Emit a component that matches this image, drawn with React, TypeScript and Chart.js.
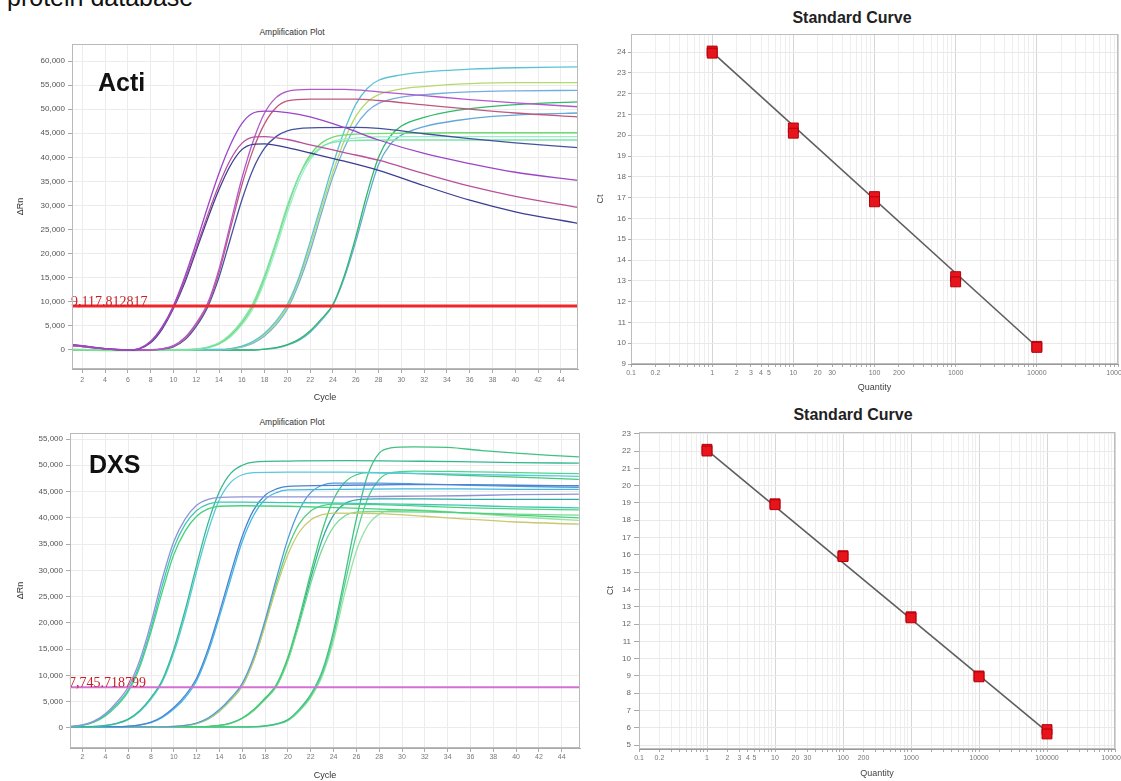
import React, { useEffect, useRef } from "react";
import { Chart, registerables } from "chart.js";

Chart.register(...registerables);

const FONT = 'Arial, "Liberation Sans", Helvetica, sans-serif';

// ---------------- Acti amplification plot ----------------
const actiThreshold = 9117.812817;
const actiThresholdLabel = "9,117.812817";
const actiYTicks = [0, 5000, 10000, 15000, 20000, 25000, 30000, 35000, 40000, 45000, 50000, 55000, 60000];
const actiA1 = [[1,1200],[2,900],[3,600],[4,300],[5,100],[6,0],[7,300],[8,1800],[9,4800],[10,9200],[11,15200],[12,22200],[13,29700],[14,36700],[15,42600],[16,47000],[17,49200],[18,49600],[20,49300],[22,48400],[25,46200],[28,43600],[32,40800],[36,38700],[40,36900],[45.5,35200]];
const actiA2 = [[1,1000],[2,800],[3,500],[4,250],[5,80],[6,0],[7,280],[8,1700],[9,4600],[10,8900],[11,14600],[12,21200],[13,28000],[14,34300],[15,39500],[16,42900],[17,44200],[18,44300],[20,43700],[22,42600],[25,41000],[28,39400],[32,36600],[36,34000],[40,31900],[45.5,29600]];
const actiA3 = [[1,1100],[2,850],[3,550],[4,280],[5,90],[6,0],[7,250],[8,1500],[9,4300],[10,8600],[11,14000],[12,20600],[13,27200],[14,33300],[15,38300],[16,41600],[17,42700],[18,42800],[20,42000],[22,40900],[25,39200],[28,37300],[32,34100],[36,31100],[40,28700],[45.5,26300]];
const actiB1 = [[1,900],[2,700],[3,450],[4,250],[5,100],[6,20],[7,0],[8,50],[9,250],[10,900],[11,2600],[12,5600],[13,9700],[14,16800],[15,26200],[16,35600],[17,43400],[18,49200],[19,52400],[20,53700],[22,54100],[25,54100],[28,53600],[32,52800],[36,52000],[40,51300],[45.5,50500]];
const actiB2 = [[1,1000],[2,750],[3,480],[4,260],[5,100],[6,20],[7,0],[8,40],[9,220],[10,800],[11,2400],[12,5300],[13,9300],[14,16100],[15,25200],[16,34200],[17,41600],[18,47000],[19,50300],[20,51700],[22,52100],[26,52100],[28,51800],[32,50900],[36,50000],[40,49200],[45.5,48400]];
const actiB3 = [[1,900],[2,700],[3,450],[4,240],[5,90],[6,15],[7,0],[8,30],[9,180],[10,650],[11,2100],[12,4900],[13,8900],[14,15100],[15,23100],[16,31100],[17,37600],[18,41900],[19,44300],[20,45500],[22,46100],[26,46200],[28,46000],[32,44900],[36,43900],[40,43000],[45.5,42000]];
const actiC1 = [[1,200],[4,0],[10,0],[12,200],[13,600],[14,1500],[15,3300],[16,6000],[17,9800],[18,15500],[19,22500],[20,30000],[21,36000],[22,40000],[23,42200],[24,43100],[26,43500],[30,43600],[35,43600],[40,43600],[45.5,43600]];
const actiC2 = [[1,100],[4,-100],[10,0],[12,200],[13,500],[14,1300],[15,3000],[16,5600],[17,9300],[18,15000],[19,22000],[20,29500],[21,36000],[22,40500],[23,43000],[24,44200],[26,44800],[30,45000],[35,45100],[40,45100],[45.5,45100]];
const actiC3 = [[1,150],[4,0],[10,0],[12,150],[13,450],[14,1200],[15,2700],[16,5200],[17,8700],[18,14200],[19,21000],[20,28500],[21,35000],[22,39500],[23,42000],[24,43300],[26,44000],[30,44300],[35,44300],[40,44300],[45.5,44300]];
const actiD1 = [[1,100],[4,0],[14,100],[15,300],[16,800],[17,1800],[18,3500],[19,6000],[20,9500],[21,15000],[22,22500],[23,30500],[24,38500],[25,45500],[26,51000],[27,54300],[28,56000],[30,57100],[33,57900],[36,58300],[40,58600],[45.5,58800]];
const actiD2 = [[1,0],[14,100],[15,250],[16,700],[17,1600],[18,3200],[19,5600],[20,9000],[21,14500],[22,21500],[23,29500],[24,37000],[25,43500],[26,48500],[27,51500],[28,53000],[30,54200],[33,54900],[36,55300],[40,55500],[45.5,55500]];
const actiD3 = [[1,50],[14,80],[15,200],[16,600],[17,1400],[18,2900],[19,5200],[20,8500],[21,13800],[22,20500],[23,28500],[24,36000],[25,42000],[26,46500],[27,49500],[28,51200],[30,52500],[33,53200],[36,53600],[40,53800],[45.5,53900]];
const actiE1 = [[1,0],[17,0],[18,200],[19,500],[20,1100],[21,2200],[22,4000],[23,6500],[24,9500],[25,15500],[26,23500],[27,32500],[28,40000],[29,44300],[30,46500],[32,48300],[35,49800],[38,50600],[42,51200],[45.5,51500]];
const actiE2 = [[1,0],[17,0],[18,150],[19,400],[20,1000],[21,2000],[22,3700],[23,6200],[24,9300],[25,15000],[26,22500],[27,31000],[28,38500],[29,42600],[30,44600],[32,46400],[35,47700],[38,48500],[42,49000],[45.5,49200]];
const actiSeries = [actiA1, actiA2, actiA3, actiB1, actiB2, actiB3, actiC1, actiC2, actiC3, actiD1, actiD2, actiD3, actiE1, actiE2];
const actiColors = ["#9b45c8", "#b8509a", "#3b3d92", "#b259cc", "#c0587e", "#44529e", "#7ee3a6", "#6fdc6f", "#9aeccc", "#5cc3d6", "#b5d968", "#74ade0", "#2fb96a", "#63a9d6"];

// ---------------- DXS amplification plot ----------------
const dxsThreshold = 7745.718799;
const dxsThresholdLabel = "7,745.718799";
const dxsYTicks = [0, 5000, 10000, 15000, 20000, 25000, 30000, 35000, 40000, 45000, 50000, 55000];
const dxsG1a = [[1,300],[2,600],[3,1300],[4,2700],[5,4900],[6,7800],[7,12800],[8,20000],[9,28500],[10,35500],[11,39800],[12,42400],[13,43500],[14,43900],[16,44000],[20,44000],[25,44000],[30,44100],[35,44200],[40,44400],[45.5,44500]];
const dxsG1b = [[1,300],[2,550],[3,1200],[4,2500],[5,4500],[6,7200],[7,12000],[8,19000],[9,27200],[10,34300],[11,38800],[12,41400],[13,42600],[14,43000],[16,43000],[20,42900],[25,42800],[30,42600],[35,42400],[40,42100],[45.5,41900]];
const dxsG1c = [[1,250],[2,500],[3,1100],[4,2300],[5,4200],[6,6900],[7,11500],[8,18300],[9,26000],[10,33000],[11,37500],[12,40300],[13,41700],[14,42200],[16,42300],[20,42200],[25,41900],[30,41500],[35,41000],[40,40500],[45.5,40000]];
const dxsG2a = [[1,250],[3,300],[4,500],[5,900],[6,1700],[7,3300],[8,5800],[9,9200],[10,15000],[11,22500],[12,31000],[13,39000],[14,45000],[15,48500],[16,50000],[17,50600],[20,50800],[25,50900],[30,50800],[35,50700],[40,50500],[45.5,50400]];
const dxsG2b = [[1,250],[3,280],[4,450],[5,850],[6,1600],[7,3100],[8,5500],[9,8800],[10,14300],[11,21500],[12,29800],[13,37500],[14,43500],[15,46800],[16,48200],[17,48600],[20,48700],[25,48700],[30,48500],[35,48300],[40,48100],[45.5,47900]];
const dxsG3a = [[1,250],[5,250],[6,350],[7,600],[8,1100],[9,2200],[10,3900],[11,6200],[12,9500],[13,15000],[14,22000],[15,29500],[16,36500],[17,41500],[18,44300],[19,45500],[20,46000],[25,46200],[30,46300],[35,46300],[40,46200],[45.5,46100]];
const dxsG3b = [[1,200],[5,200],[6,300],[7,550],[8,1000],[9,2000],[10,3600],[11,5800],[12,9000],[13,14300],[14,21200],[15,28500],[16,35500],[17,40500],[18,43500],[19,44800],[20,45300],[25,45400],[30,45500],[35,45500],[40,45400],[45.5,45400]];
const dxsG4a = [[1,200],[9,200],[10,300],[11,500],[12,950],[13,1900],[14,3500],[15,5700],[16,8500],[17,13500],[18,20500],[19,28500],[20,36000],[21,41500],[22,44800],[23,46200],[24,46600],[28,46600],[32,46400],[36,46200],[40,46000],[45.5,45800]];
const dxsG4b = [[1,200],[9,200],[10,300],[11,480],[12,900],[13,1800],[14,3300],[15,5400],[16,8100],[17,12800],[18,19500],[19,26800],[20,33000],[21,37300],[22,39600],[23,40600],[24,40900],[28,40800],[32,40300],[36,39700],[40,39200],[45.5,38800]];
const dxsG4c = [[1,150],[9,150],[10,250],[11,450],[12,850],[13,1700],[14,3200],[15,5300],[16,8000],[17,12900],[18,19800],[19,27500],[20,34300],[21,38900],[22,41300],[23,42300],[24,42600],[28,42500],[32,42200],[36,41900],[40,41700],[45.5,41500]];
const dxsG5a = [[1,200],[12,200],[13,300],[14,500],[15,950],[16,1900],[17,3500],[18,5700],[19,8300],[20,13500],[21,21000],[22,29500],[23,37500],[24,43500],[25,46800],[26,48200],[27,48600],[30,48500],[34,48200],[38,47900],[42,47600],[45.5,47300]];
const dxsG5b = [[1,150],[12,150],[13,250],[14,450],[15,900],[16,1800],[17,3300],[18,5400],[19,7900],[20,12800],[21,19800],[22,27500],[23,34000],[24,38300],[25,40400],[26,41100],[28,41200],[32,41100],[36,40900],[40,40700],[45.5,40500]];
const dxsG5c = [[1,200],[12,200],[13,280],[14,480],[15,920],[16,1850],[17,3400],[18,5500],[19,8100],[20,13000],[21,20300],[22,28500],[23,35800],[24,40500],[25,42700],[26,43400],[28,43600],[32,43600],[36,43500],[40,43500],[45.5,43500]];
const dxsG6a = [[1,200],[16,200],[17,250],[18,400],[19,800],[20,1600],[21,3600],[22,6400],[23,10800],[24,18500],[25,29000],[26,39800],[27,48200],[28,52300],[29,53300],[31,53500],[34,53400],[37,52800],[40,52300],[43,51900],[45.5,51600]];
const dxsG6b = [[1,150],[16,150],[17,220],[18,380],[19,750],[20,1500],[21,3400],[22,6100],[23,10300],[24,17600],[25,27500],[26,36800],[27,43700],[28,47300],[29,48600],[31,48900],[35,48800],[40,48600],[45.5,48400]];
const dxsG6c = [[1,150],[16,150],[17,200],[18,350],[19,700],[20,1400],[21,3200],[22,5800],[23,9800],[24,16600],[25,25800],[26,33700],[27,38500],[28,40700],[29,41400],[31,41500],[35,41000],[40,40200],[45.5,39500]];
const dxsSeries = [dxsG1a, dxsG1b, dxsG1c, dxsG2a, dxsG2b, dxsG3a, dxsG3b, dxsG4a, dxsG4b, dxsG4c, dxsG5a, dxsG5b, dxsG5c, dxsG6a, dxsG6b, dxsG6c];
const dxsColors = ["#8f93d6", "#3fc7b4", "#46d27a", "#34b98e", "#57c9dc", "#4b82d1", "#3fb9e2", "#5599d8", "#c9c870", "#4fd080", "#43c972", "#74da92", "#33aaa2", "#41c182", "#52d290", "#9ae2a4"];

// ---------------- Standard curves ----------------
const stdTopQuantity = [1, 1, 10, 10, 100, 100, 1000, 1000, 10000, 10000];
const stdTopCt = [24.05, 23.95, 20.35, 20.1, 17.05, 16.8, 13.2, 12.95, 9.85, 9.8];
const stdTopFitQuantity = [1, 10000];
const stdTopFitCt = [24.0, 9.83];
const stdTopTickLabels = [0.1, 0.2, 1, 2, 3, 4, 5, 10, 20, 30, 100, 200, 1000, 10000, 100000];

const stdBottomQuantity = [1, 1, 10, 10, 100, 100, 1000, 1000, 10000, 10000, 100000, 100000];
const stdBottomCt = [22.1, 22.0, 18.95, 18.9, 15.95, 15.9, 12.42, 12.36, 9.0, 8.95, 5.9, 5.65];
const stdBottomFitQuantity = [1, 100000];
const stdBottomFitCt = [22.05, 5.78];
const stdBottomTickLabels = [0.1, 0.2, 1, 2, 3, 4, 5, 10, 20, 30, 100, 200, 1000, 10000, 100000, 1000000];

// ---------------- helpers ----------------
const toXY = (pairs: number[][]) => pairs.map(([x, y]) => ({ x, y }));
const zip = (xs: number[], ys: number[]) => xs.map((x, i) => ({ x, y: ys[i] }));
const isDecade = (v: number) => {
  const l = Math.log10(v);
  return Math.abs(l - Math.round(l)) < 1e-9;
};
const logGrid = (min: number, max: number) => {
  const out: number[] = [];
  for (let e = Math.floor(Math.log10(min)); e <= Math.ceil(Math.log10(max)); e++) {
    for (let s = 1; s <= 9; s++) {
      const v = parseFloat((s * Math.pow(10, e)).toPrecision(6));
      if (v >= min - 1e-12 && v <= max + 1e-9) out.push(v);
    }
  }
  return out;
};

const framePlugin = {
  id: "frame",
  afterDraw(chart: any, _a: any, opts: any) {
    const { ctx, chartArea: a } = chart;
    ctx.save();
    ctx.strokeStyle = (opts && opts.color) || "#bbb";
    ctx.lineWidth = 1;
    const l = Math.round(a.left) + 0.5;
    const t = Math.round(a.top) + 0.5;
    ctx.strokeRect(l, t, Math.round(a.right) - Math.round(a.left) - 1, Math.round(a.bottom) - Math.round(a.top) - 1);
    ctx.restore();
  },
};

const thresholdLabelPlugin = {
  id: "thrLabel",
  afterDatasetsDraw(chart: any, _a: any, opts: any) {
    if (!opts || !opts.text) return;
    const { ctx, chartArea: a, scales } = chart;
    const y = scales.y.getPixelForValue(opts.value);
    ctx.save();
    ctx.font = '14px "Liberation Serif", "Times New Roman", serif';
    ctx.fillStyle = opts.color;
    ctx.textAlign = "left";
    ctx.textBaseline = "alphabetic";
    ctx.fillText(opts.text, a.left - 1, y);
    ctx.restore();
  },
};

function ampConfig(p: any) {
  const datasets: any[] = [
    {
      data: [{ x: p.xMin, y: p.threshold }, { x: p.xMax, y: p.threshold }],
      borderColor: p.thresholdColor,
      borderWidth: p.thresholdWidth,
      pointRadius: 0,
      tension: 0,
    },
    ...p.series.map((s: number[][], i: number) => ({
      data: toXY(s),
      borderColor: p.colors[i],
      borderWidth: 1.3,
      pointRadius: 0,
      cubicInterpolationMode: "monotone",
    })),
  ];
  return {
    type: "line",
    data: { datasets },
    plugins: [framePlugin, thresholdLabelPlugin],
    options: {
      animation: false,
      responsive: false,
      devicePixelRatio: 1,
      events: [],
      layout: { padding: p.padding },
      plugins: {
        legend: { display: false },
        tooltip: { enabled: false },
        frame: { color: "#b9b9b9" },
        thrLabel: { text: p.label, value: p.threshold, color: "#c81e24" },
      },
      scales: {
        x: {
          type: "linear",
          min: p.xMin,
          max: p.xMax,
          afterFit: (s: any) => { s.height = p.xHeight; },
          ticks: { stepSize: 2, includeBounds: false, autoSkip: false, maxRotation: 0, font: { size: 7, family: FONT }, color: "#777", padding: p.xTickPad },
          grid: { color: "#ececec", tickLength: 4, tickColor: "#aaa" },
          border: { color: "#aaa" },
          title: { display: true, text: "Cycle", font: { size: 9, family: FONT }, color: "#333", padding: { top: 0, bottom: p.cyclePad } },
        },
        y: {
          type: "linear",
          min: p.yMin,
          max: p.yMax,
          afterFit: (s: any) => { s.width = p.yWidth; },
          afterBuildTicks: (s: any) => { s.ticks = p.yTicks.map((v: number) => ({ value: v })); },
          ticks: { autoSkip: false, font: { size: 8, family: FONT }, color: "#555", padding: 3, callback: (v: any) => Number(v).toLocaleString("en-US") },
          grid: { color: "#ececec", tickLength: 4, tickColor: "#aaa" },
          border: { color: "#aaa" },
          title: { display: true, text: "ΔRn", font: { size: 9, family: FONT }, color: "#333", padding: { top: p.rnPad, bottom: 0 } },
        },
      },
    },
  };
}

function stdConfig(p: any) {
  return {
    type: "scatter",
    data: {
      datasets: [
        {
          data: zip(p.q, p.ct),
          pointStyle: "rect",
          pointRadius: 7,
          pointBackgroundColor: "#e8141c",
          pointBorderColor: "#b3000c",
          pointBorderWidth: 1,
          showLine: false,
        },
        {
          data: zip(p.fitQ, p.fitCt),
          showLine: true,
          borderColor: "#5e5e5e",
          borderWidth: 1.6,
          pointRadius: 0,
        },
      ],
    },
    plugins: [framePlugin],
    options: {
      animation: false,
      responsive: false,
      devicePixelRatio: 1,
      events: [],
      layout: { padding: p.padding },
      plugins: { legend: { display: false }, tooltip: { enabled: false }, frame: { color: "#bdbdbd" } },
      scales: {
        x: {
          type: "logarithmic",
          min: 0.1,
          max: p.xMax,
          afterFit: (s: any) => { s.height = p.xHeight; },
          afterBuildTicks: (s: any) => { s.ticks = logGrid(0.1, p.xMax).map((v) => ({ value: v, major: isDecade(v) })); },
          ticks: {
            autoSkip: false,
            maxRotation: 0,
            minRotation: 0,
            font: { size: 7, family: FONT },
            color: "#777",
            padding: 2,
            callback: (v: any) => (p.labels.some((l: number) => Math.abs(l - Number(v)) < 1e-9 * Math.max(1, l)) ? String(v) : ""),
          },
          grid: { color: (c: any) => (c.tick && isDecade(c.tick.value) ? "#d6d6d6" : "#eeeeee"), tickLength: 3, tickColor: "#aaa" },
          border: { color: "#999" },
          title: { display: true, text: "Quantity", font: { size: 9, family: FONT }, color: "#444", padding: { top: 0, bottom: p.qPad } },
        },
        y: {
          type: "linear",
          min: p.yMin,
          max: p.yMax,
          afterFit: (s: any) => { s.width = p.yWidth; },
          ticks: { stepSize: 1, includeBounds: false, font: { size: 8, family: FONT }, color: "#666", padding: p.yTickPad },
          grid: { color: "#e9e9e9", tickLength: p.yTickLen, tickColor: "#aaa" },
          border: { color: "#999" },
          title: { display: true, text: "Ct", font: { size: 9, family: FONT }, color: "#444", padding: { top: p.ctPad, bottom: 0 } },
        },
      },
    },
  };
}

function ChartCanvas({ left, top, width, height, build }: any) {
  const ref = useRef<HTMLCanvasElement>(null);
  useEffect(() => {
    const chart = new Chart(ref.current as HTMLCanvasElement, build());
    return () => chart.destroy();
  }, []);
  return <canvas ref={ref} width={width} height={height} style={{ position: "absolute", left, top, width, height }} />;
}

function Text({ children, left, top, size, bold, center, color, family }: any) {
  return (
    <div
      style={{
        position: "absolute",
        left,
        top,
        fontSize: size,
        lineHeight: 1,
        fontWeight: bold ? "bold" : "normal",
        fontFamily: family || FONT,
        color: color || "#111",
        whiteSpace: "nowrap",
        transform: center ? "translateX(-50%)" : undefined,
      }}
    >
      {children}
    </div>
  );
}

export default function App() {
  return (
    <div style={{ position: "fixed", left: 0, top: 0, width: 1121, height: 781, overflow: "hidden", background: "#fff" }}>
      <Text left={7} top={-15} size={25}>protein database</Text>

      <Text left={292} top={28} size={8.5} center color="#333">Amplification Plot</Text>
      <ChartCanvas
        left={0}
        top={36}
        width={590}
        height={374}
        build={() =>
          ampConfig({
            series: actiSeries,
            colors: actiColors,
            threshold: actiThreshold,
            thresholdColor: "#f0262a",
            thresholdWidth: 3,
            label: actiThresholdLabel,
            yTicks: actiYTicks,
            xMin: 1.1,
            xMax: 45.5,
            yMin: -3945,
            yMax: 63530,
            yWidth: 72,
            xHeight: 41,
            padding: { top: 8, right: 12, left: 0, bottom: 0 },
            cyclePad: 7,
            rnPad: 15,
            xTickPad: 3,
          })
        }
      />
      <Text left={98} top={69.5} size={25} bold>Acti</Text>

      <Text left={292} top={418} size={8.5} center color="#333">Amplification Plot</Text>
      <ChartCanvas
        left={0}
        top={424}
        width={590}
        height={357}
        build={() =>
          ampConfig({
            series: dxsSeries,
            colors: dxsColors,
            threshold: dxsThreshold,
            thresholdColor: "#d470d4",
            thresholdWidth: 2,
            label: dxsThresholdLabel,
            yTicks: dxsYTicks,
            xMin: 0.9,
            xMax: 45.6,
            yMin: -3807,
            yMax: 56142,
            yWidth: 70,
            xHeight: 33,
            padding: { top: 9, right: 10, left: 0, bottom: 0 },
            cyclePad: 0,
            rnPad: 15,
            xTickPad: 1,
          })
        }
      />
      <Text left={89} top={452} size={25} bold>DXS</Text>

      <Text left={852} top={10} size={16} bold center color="#222">Standard Curve</Text>
      <ChartCanvas
        left={590}
        top={26}
        width={560}
        height={372}
        build={() =>
          stdConfig({
            q: stdTopQuantity,
            ct: stdTopCt,
            fitQ: stdTopFitQuantity,
            fitCt: stdTopFitCt,
            labels: stdTopTickLabels,
            xMax: 100000,
            yMin: 9,
            yMax: 24.87,
            yWidth: 41,
            xHeight: 34,
            padding: { top: 8, right: 32, left: 0, bottom: 0 },
            ctPad: 5,
            qPad: 5,
            yTickLen: 3,
            yTickPad: 2,
          })
        }
      />

      <Text left={853} top={407} size={16} bold center color="#222">Standard Curve</Text>
      <ChartCanvas
        left={590}
        top={424}
        width={560}
        height={357}
        build={() =>
          stdConfig({
            q: stdBottomQuantity,
            ct: stdBottomCt,
            fitQ: stdBottomFitQuantity,
            fitCt: stdBottomFitCt,
            labels: stdBottomTickLabels,
            xMax: 1000000,
            yMin: 4.78,
            yMax: 23.1,
            yWidth: 49,
            xHeight: 32,
            padding: { top: 6, right: 35, left: 0, bottom: 0 },
            ctPad: 15,
            qPad: 2,
            yTickLen: 5,
            yTickPad: 3,
          })
        }
      />
    </div>
  );
}
